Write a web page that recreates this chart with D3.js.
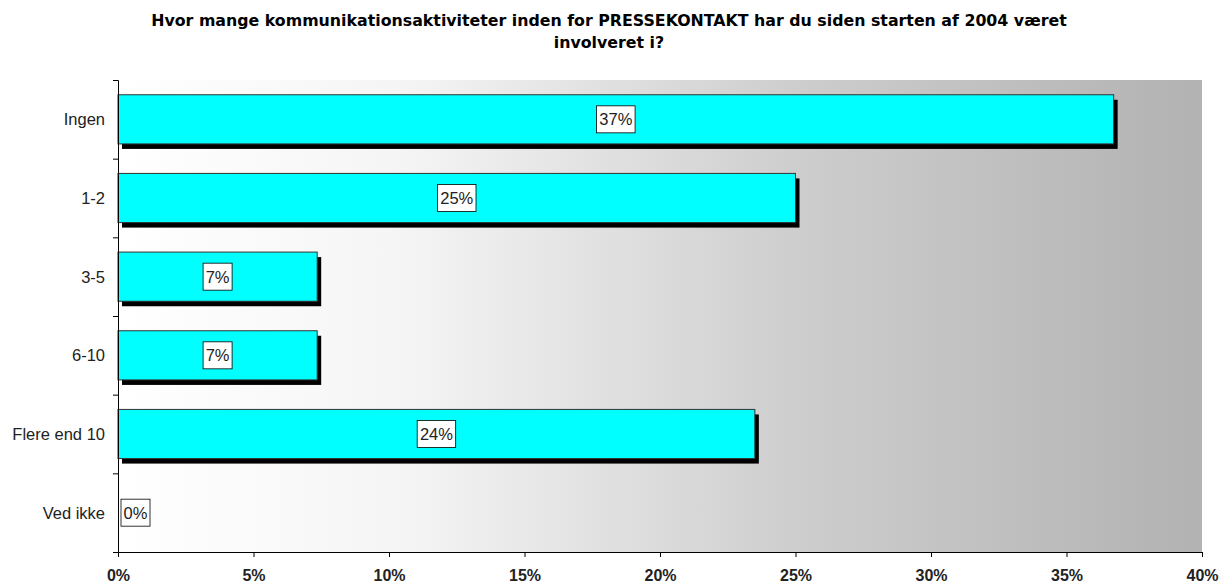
<!DOCTYPE html>
<html>
<head>
<meta charset="utf-8">
<script src="https://cdn.jsdelivr.net/npm/d3@7"></script>
<style>
    body { margin: 0; background: #fff; }
    svg { display: block; }
    .title { font-family: "DejaVu Sans", Verdana, sans-serif; font-weight: bold; font-size: 15.8px; }
    .ylab { font-family: "Liberation Sans", Arial, sans-serif; font-size: 16.5px; fill: #222; }
    .xlab { font-family: "Liberation Sans", Arial, sans-serif; font-size: 16px; font-weight: bold; fill: #222; }
    .vlab { font-family: "Liberation Sans", Arial, sans-serif; font-size: 16.5px; fill: #222; }
</style>
</head>
<body>
<div id="chart"></div>
<script>
var categories = ["Ingen", "1-2", "3-5", "6-10", "Flere end 10", "Ved ikke"];
var values = [36.74, 25.0, 7.35, 7.35, 23.5, 0];
var valueLabels = ["37%", "25%", "7%", "7%", "24%", "0%"];
var xTicks = [0, 5, 10, 15, 20, 25, 30, 35, 40];
var titleLines = ["Hvor mange kommunikationsaktiviteter inden for PRESSEKONTAKT har du siden starten af 2004 været",
                  "involveret i?"];

var W = 1220, H = 584;
var margin = {top: 80, right: 18, bottom: 32, left: 118},
    width = W - margin.left - margin.right,
    height = H - margin.top - margin.bottom;

var svg = d3.select("#chart").append("svg")
    .attr("width", W)
    .attr("height", H);

svg.selectAll(".title")
    .data(titleLines)
    .enter().append("text")
    .attr("class", "title")
    .attr("x", 609)
    .attr("y", function(d, i) { return 26 + i * 22; })
    .attr("text-anchor", "middle")
    .text(function(d) { return d; });

var defs = svg.append("defs");
var grad = defs.append("linearGradient")
    .attr("id", "bg")
    .attr("x1", "0%").attr("x2", "100%")
    .attr("y1", "0%").attr("y2", "0%");
grad.append("stop").attr("offset", "0%").attr("stop-color", "#ffffff");
grad.append("stop").attr("offset", "26%").attr("stop-color", "#f5f5f5");
grad.append("stop").attr("offset", "63%").attr("stop-color", "#cdcdcd");
grad.append("stop").attr("offset", "100%").attr("stop-color", "#b2b2b2");

var g = svg.append("g")
    .attr("transform", "translate(" + margin.left + "," + margin.top + ")");

var x = d3.scaleLinear().domain([0, 40]).range([0, width]);
var y = d3.scaleBand().domain(categories).range([0, height]).paddingInner(0.375).paddingOuter(0.1875);

g.append("rect")
    .attr("width", width)
    .attr("height", height)
    .attr("fill", "url(#bg)");

// shadows
g.selectAll(".shadow")
    .data(values)
    .enter().append("rect")
    .attr("class", "shadow")
    .attr("x", 4)
    .attr("y", function(d, i) { return y(categories[i]) + 5; })
    .attr("width", function(d) { return d > 0 ? x(d) : 0; })
    .attr("height", y.bandwidth())
    .attr("fill", "#000");

g.selectAll(".bar")
    .data(values)
    .enter().append("rect")
    .attr("class", "bar")
    .attr("x", 0)
    .attr("y", function(d, i) { return y(categories[i]); })
    .attr("width", function(d) { return x(d); })
    .attr("height", y.bandwidth())
    .attr("fill", "#00ffff")
    .attr("stroke", function(d) { return d > 0 ? "#333" : "none"; })
    .attr("stroke-width", 1);

// value labels
var boxW = function(s) { return s.length * 9.5 + 10; };
var lab = g.selectAll(".vl")
    .data(values)
    .enter().append("g")
    .attr("transform", function(d, i) {
        var bw = boxW(valueLabels[i]);
        var cx = Math.max(x(d) / 2, bw / 2 + 3);
        return "translate(" + cx + "," + (y(categories[i]) + y.bandwidth() / 2) + ")";
    });
lab.append("rect")
    .attr("x", function(d, i) { return -boxW(valueLabels[i]) / 2; })
    .attr("y", -13.5)
    .attr("width", function(d, i) { return boxW(valueLabels[i]); })
    .attr("height", 27)
    .attr("fill", "#fff")
    .attr("stroke", "#000")
    .attr("stroke-width", 0.8);
lab.append("text")
    .attr("class", "vlab")
    .attr("text-anchor", "middle")
    .attr("dy", "0.36em")
    .text(function(d, i) { return valueLabels[i]; });

// y axis
var yAxis = g.append("g").call(
    d3.axisLeft(d3.scaleLinear().domain([0, categories.length]).range([0, height]))
        .tickValues(d3.range(categories.length + 1))
        .tickSize(5)
        .tickFormat(""));
yAxis.select(".domain").attr("stroke", "#000");
yAxis.selectAll(".tick line").attr("stroke", "#000");

g.selectAll(".ylab")
    .data(categories)
    .enter().append("text")
    .attr("class", "ylab")
    .attr("x", -13)
    .attr("y", function(d) { return y(d) + y.bandwidth() / 2; })
    .attr("dy", "0.36em")
    .attr("text-anchor", "end")
    .text(function(d) { return d; });

// x axis
var xAxis = g.append("g")
    .attr("transform", "translate(0," + height + ")")
    .call(d3.axisBottom(x).tickValues(xTicks).tickSize(5).tickPadding(13)
        .tickFormat(function(d) { return d + "%"; }));
xAxis.select(".domain").attr("stroke", "#000");
xAxis.selectAll(".tick line").attr("stroke", "#000");
xAxis.selectAll(".tick text")
    .attr("class", "xlab")
    .attr("font-family", null)
    .attr("font-size", null)
    .attr("fill", null);
</script>
</body>
</html>
